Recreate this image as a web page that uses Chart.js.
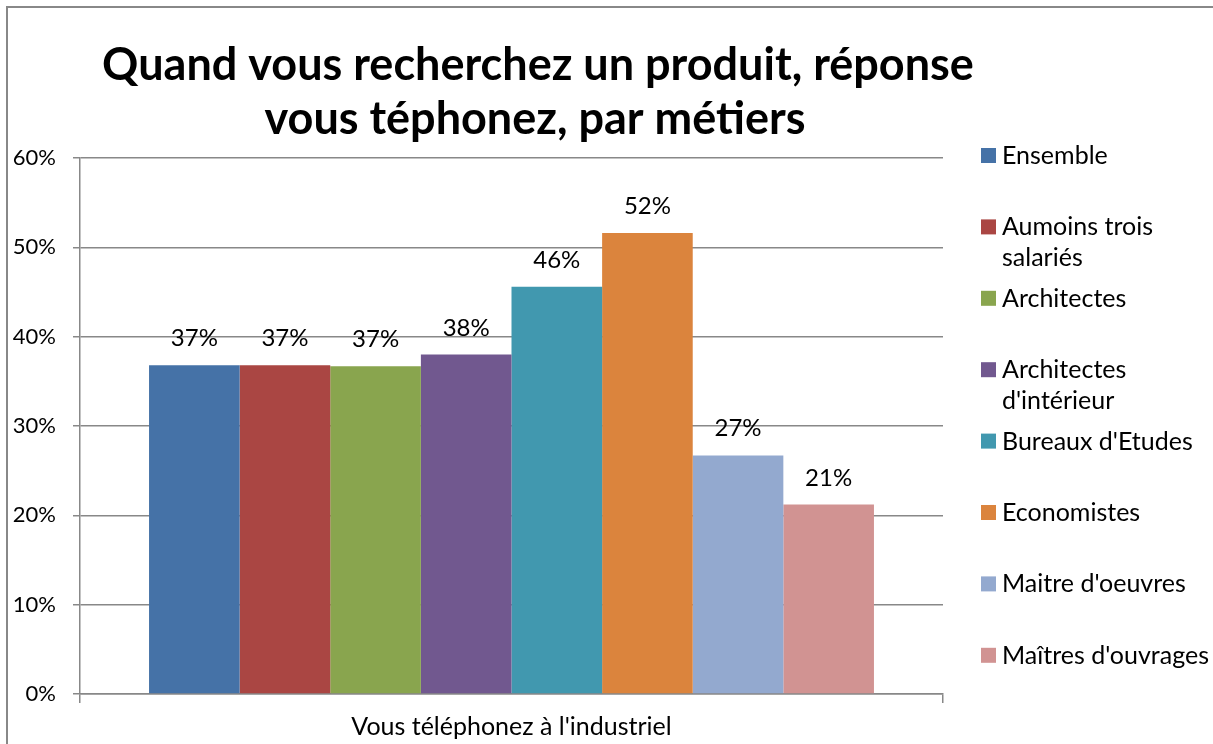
<!DOCTYPE html>
<html>
<head>
<meta charset="utf-8">
<script src="https://cdn.jsdelivr.net/npm/chart.js@4.4.1/dist/chart.umd.min.js"></script>
<style>
  html, body { margin: 0; padding: 0; background: #fff; }
  #chart { display: block; }
</style>
</head>
<body>
<canvas id="chart" width="1213" height="744"></canvas>
<script>
const categories = ["Vous téléphonez à l'industriel"];
const seriesNames = [
  "Ensemble",
  "Aumoins trois salariés",
  "Architectes",
  "Architectes d'intérieur",
  "Bureaux d'Etudes",
  "Economistes",
  "Maitre d'oeuvres",
  "Maîtres d'ouvrages",
];
const seriesValues = [36.8, 36.8, 36.7, 38.0, 45.6, 51.6, 26.7, 21.2];
const seriesColors = [
  "#4572A7", "#AA4643", "#89A54E", "#71588F",
  "#4198AF", "#DB843D", "#93A9CF", "#D19392",
];
const yTicks = [0, 10, 20, 30, 40, 50, 60];
const titleLines = [
  "Quand vous recherchez un produit, réponse",
  "vous téphonez, par métiers",
];

const FONT = "Lato, 'Open Sans', sans-serif";
const GRID = "#888888";

// white background + the grey frame of the chart object
const frame = {
  id: "frame",
  beforeDraw(chart) {
    const ctx = chart.ctx;
    ctx.save();
    ctx.fillStyle = "#fff";
    ctx.fillRect(0, 0, chart.width, chart.height);
    ctx.strokeStyle = GRID;
    ctx.lineWidth = 2;
    ctx.strokeRect(7, 7, chart.width + 10, chart.height + 10);
    ctx.restore();
  },
};

// two-line title, centred like the original
const bigTitle = {
  id: "bigTitle",
  afterDraw(chart) {
    const ctx = chart.ctx;
    ctx.save();
    ctx.fillStyle = "#000";
    ctx.font = "bold 45px " + FONT;
    ctx.textAlign = "center";
    ctx.textBaseline = "alphabetic";
    ctx.fillText(titleLines[0], 538, 80);
    ctx.fillText(titleLines[1], 535, 134);
    ctx.restore();
  },
};

// value labels above each bar
const valueLabels = {
  id: "valueLabels",
  afterDatasetsDraw(chart) {
    const ctx = chart.ctx;
    ctx.save();
    ctx.fillStyle = "#000";
    ctx.font = "24px " + FONT;
    ctx.textAlign = "center";
    ctx.textBaseline = "alphabetic";
    chart.data.datasets.forEach((ds, i) => {
      chart.getDatasetMeta(i).data.forEach((bar, j) => {
        ctx.fillText(Math.round(ds.data[j]) + "%", bar.x, bar.y - 19);
      });
    });
    ctx.restore();
  },
};

// legend on the right, one slot per series, long names wrapped
const sideLegend = {
  id: "sideLegend",
  afterDraw(chart) {
    const ctx = chart.ctx;
    const boxX = 981, textX = 1002, maxW = 212;
    const top = 155, step = 71.4, lineH = 31;
    ctx.save();
    ctx.font = "25px " + FONT;
    ctx.textBaseline = "middle";
    ctx.textAlign = "left";
    chart.data.datasets.forEach((ds, i) => {
      const y = top + i * step;
      ctx.fillStyle = ds.backgroundColor;
      ctx.fillRect(boxX, y - 7, 15, 15);
      // wrap words
      const words = ds.label.split(" ");
      const lines = [];
      let cur = "";
      words.forEach((w) => {
        const test = cur ? cur + " " + w : w;
        if (cur && ctx.measureText(test).width > maxW) {
          lines.push(cur);
          cur = w;
        } else {
          cur = test;
        }
      });
      lines.push(cur);
      ctx.fillStyle = "#000";
      lines.forEach((l, k) => ctx.fillText(l, textX, y + 1 + k * lineH));
    });
    ctx.restore();
  },
};

new Chart(document.getElementById("chart"), {
  type: "bar",
  data: {
    labels: categories,
    datasets: seriesNames.map((name, i) => ({
      label: name,
      data: [seriesValues[i]],
      backgroundColor: seriesColors[i],
      borderWidth: 0,
      categoryPercentage: 0.84,
      barPercentage: 1.0,
    })),
  },
  options: {
    responsive: false,
    animation: false,
    layout: {
      padding: { left: 0, top: 158, right: 270, bottom: 0 },
    },
    plugins: {
      legend: { display: false },
      title: { display: false },
      tooltip: { enabled: false },
    },
    scales: {
      x: {
        grid: {
          drawOnChartArea: false,
          drawTicks: true,
          tickLength: 9,
          color: GRID,
          lineWidth: 1.5,
        },
        border: { color: GRID, width: 1.5 },
        ticks: {
          color: "#000",
          padding: 9,
          font: { family: FONT, size: 25 },
        },
        afterFit(scale) {
          scale.height = 50;
        },
      },
      y: {
        min: 0,
        max: 60,
        afterBuildTicks(scale) {
          scale.ticks = yTicks.map((v) => ({ value: v }));
        },
        grid: {
          color: GRID,
          lineWidth: 1.5,
          tickLength: 7,
        },
        border: { color: GRID, width: 1.5 },
        ticks: {
          color: "#000",
          padding: 17,
          font: { family: FONT, size: 22 },
          callback: (v) => v + "%",
        },
        afterFit(scale) {
          scale.width = 80;
        },
      },
    },
  },
  plugins: [frame, bigTitle, valueLabels, sideLegend],
});
</script>
</body>
</html>
